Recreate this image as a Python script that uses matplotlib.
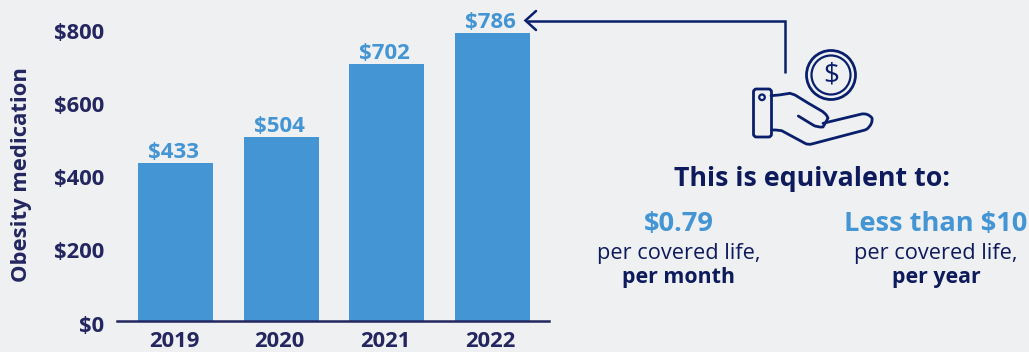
import matplotlib
matplotlib.use("Agg")
import matplotlib.pyplot as plt
from matplotlib.patches import Circle, FancyBboxPatch, PathPatch
from matplotlib.path import Path
from matplotlib.transforms import ScaledTranslation

years = ["2019", "2020", "2021", "2022"]
costs = [433, 504, 702, 786]
y_ticks = [0, 200, 400, 600, 800]
y_labels = ["$0", "$200", "$400", "$600", "$800"]

BG = "#eff0f2"
BAR = "#4495d3"
AXIS_TEXT = "#23265f"
NAVY = "#0a1f6b"
DARK = "#0d1a5c"
W, H = 1029, 352

plt.rcParams["font.family"] = ["Open Sans", "DejaVu Sans"]
fig = plt.figure(figsize=(W / 100, H / 100), dpi=100, facecolor=BG)

# Bar chart, placed in pixel terms so the baseline sits at y=321
ax = fig.add_axes([117 / W, (H - 321) / H, 432 / W, 321 / H])
ax.set_facecolor("none")
ax.bar(range(len(years)), costs, width=0.71, color=BAR, zorder=2)
ax.set_xlim(-0.554, 3.537)
ax.set_ylim(0, 321 / 0.366)
for s in ["top", "left", "right"]:
    ax.spines[s].set_visible(False)
ax.spines["bottom"].set_color(AXIS_TEXT)
ax.spines["bottom"].set_linewidth(1.8)
ax.spines["bottom"].set_zorder(3)
ax.set_xticks(range(len(years)))
ax.set_xticklabels(years, fontsize=15.8, fontweight="bold", color=AXIS_TEXT)
ax.set_yticks(y_ticks)
ax.set_yticklabels(y_labels, fontsize=15.8, fontweight="bold", color=AXIS_TEXT)
ax.tick_params(axis="both", length=0)
ax.tick_params(axis="x", pad=7.5)
ax.tick_params(axis="y", pad=9)

# Nudge tick labels by a few pixels
down = ScaledTranslation(0, -2.5 / 100, fig.dpi_scale_trans)
left = ScaledTranslation(-1.5 / 100, 0, fig.dpi_scale_trans)
for label in ax.get_yticklabels():
    label.set_transform(label.get_transform() + down)
for label in ax.get_xticklabels():
    label.set_transform(label.get_transform() + left)

value_shift = ax.transData + ScaledTranslation(-2 / 100, 0, fig.dpi_scale_trans)
for i, v in enumerate(costs):
    ax.text(i, v, f"${v}", ha="center", va="bottom", fontsize=16,
            fontweight="bold", color=BAR, transform=value_shift)

# Overlay in image pixels for the callout and icon
ov = fig.add_axes([0, 0, 1, 1])
ov.set_xlim(0, W)
ov.set_ylim(H, 0)
ov.axis("off")
ov.patch.set_alpha(0)

ov.text(22, 175, "Obesity medication", rotation=90, ha="center", va="center",
        fontsize=15.8, fontweight="bold", color=AXIS_TEXT)

# Arrow from the icon to the 2022 bar
ov.plot([785, 785, 527], [73, 20.5, 20.5], color=NAVY, lw=1.8,
        solid_joinstyle="miter", solid_capstyle="butt")
ov.plot([536, 525.5, 536], [11, 20.5, 30], color=NAVY, lw=1.8,
        solid_joinstyle="miter", solid_capstyle="round")

# Coin
ov.add_patch(Circle((831, 75), 24.5, fill=False, ec=NAVY, lw=2))
ov.add_patch(Circle((831, 75), 19.5, fill=False, ec=NAVY, lw=1.6))
ov.text(831, 76, "$", ha="center", va="center", fontsize=20, color=NAVY)

# Hand
ov.add_patch(FancyBboxPatch((755.5, 91), 14, 44, boxstyle="round,pad=2,rounding_size=3",
                            fill=False, ec=NAVY, lw=2))
ov.add_patch(Circle((762, 97.3), 2.8, fill=False, ec=NAVY, lw=1.6))
palm = Path(
    [(771, 95.7), (779, 95), (790, 93.3), (795, 95), (808, 103), (820, 110),
     (826, 113), (828, 118), (826, 122), (823, 127), (817, 127.5), (813, 125), (798.3, 116)],
    [Path.MOVETO, Path.LINETO, Path.LINETO, Path.LINETO, Path.LINETO, Path.LINETO,
     Path.CURVE3, Path.CURVE3, Path.CURVE3, Path.CURVE3, Path.CURVE3, Path.CURVE3, Path.LINETO],
)
fingers = Path(
    [(823, 123.3), (861.7, 114), (868, 113), (872, 118), (873, 124), (867, 129),
     (865, 130), (811.7, 144), (808, 145), (805, 143.3), (781.7, 130.7), (776, 130), (771.7, 130)],
    [Path.MOVETO, Path.LINETO, Path.CURVE3, Path.CURVE3, Path.CURVE3, Path.CURVE3,
     Path.LINETO, Path.LINETO, Path.CURVE3, Path.CURVE3, Path.LINETO, Path.LINETO, Path.LINETO],
)
for p in (palm, fingers):
    ov.add_patch(PathPatch(p, fill=False, ec=NAVY, lw=2, capstyle="round", joinstyle="round"))

# Callout text
ov.text(812, 179, "This is equivalent to:", ha="center", va="center", fontsize=19.3,
        fontweight="bold", color=DARK)
ov.text(679, 224, "$0.79", ha="center", va="center", fontsize=19.6, fontweight="bold", color=BAR)
ov.text(679, 253, "per covered life,", ha="center", va="center", fontsize=15.7, color=DARK)
ov.text(679, 277, "per month", ha="center", va="center", fontsize=15.4, fontweight="bold", color=DARK)
ov.text(936, 224, "Less than $10", ha="center", va="center", fontsize=19.6, fontweight="bold", color=BAR)
ov.text(936, 253, "per covered life,", ha="center", va="center", fontsize=15.7, color=DARK)
ov.text(936, 277, "per year", ha="center", va="center", fontsize=15.4, fontweight="bold", color=DARK)

fig.savefig("out.png", dpi=100, facecolor=BG)
